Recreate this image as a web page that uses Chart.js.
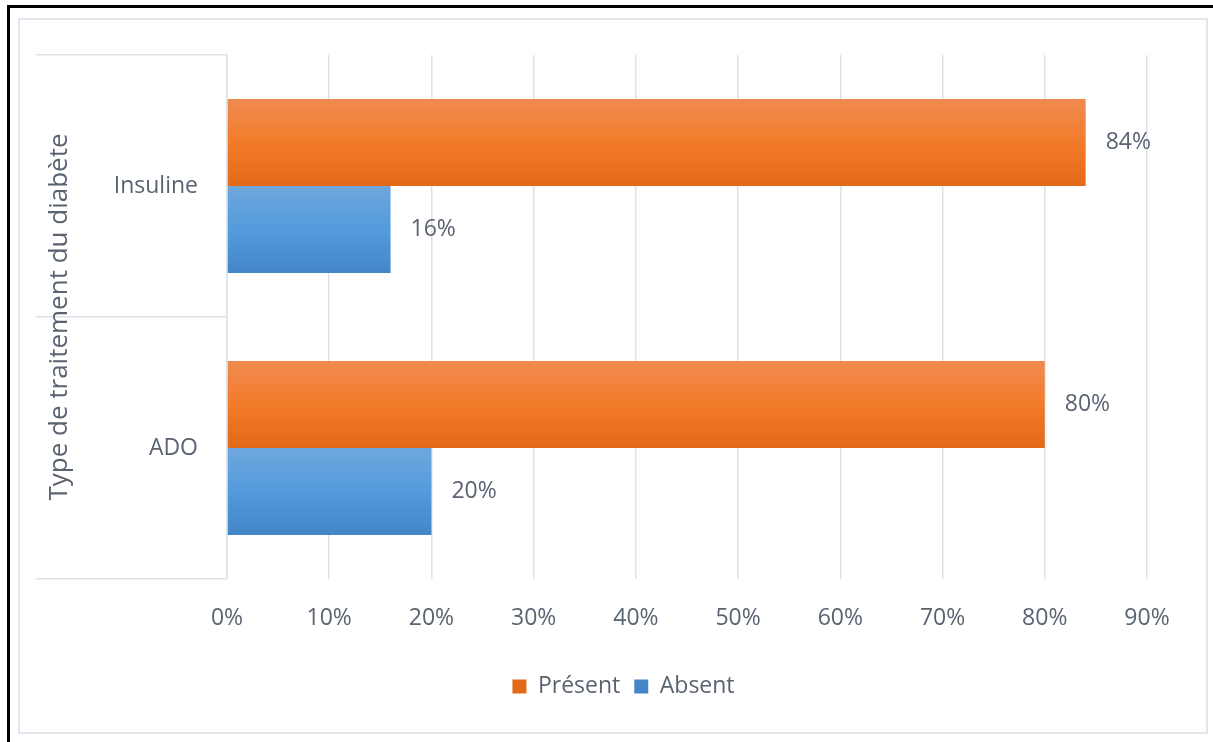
<!DOCTYPE html>
<html>
<head>
<meta charset="utf-8">
<script src="https://cdn.jsdelivr.net/npm/chart.js@4"></script>
<style>
  body { margin: 0; background: #fff; }
  .frame { position: absolute; left: 7px; top: 5px; width: 1206px; height: 737px;
           border-top: 3px solid #000; border-left: 3px solid #000; }
  .box { position: absolute; left: 18px; top: 18px; width: 1186px; height: 712px;
         border: 2px solid #e1e5ec; }
  #chart { position: absolute; left: 0; top: 0; }
</style>
</head>
<body>
<div class="frame"></div>
<div class="box"></div>
<canvas id="chart" width="1213" height="742"></canvas>
<script>
const categories = ["Insuline", "ADO"];
const present = [84, 80];
const absent = [16, 20];
const seriesNames = ["Présent", "Absent"];
const xTicks = [0, 10, 20, 30, 40, 50, 60, 70, 80, 90];

const textColor = "#5a6372";
const gridColor = "#dde2ea";
const police = "'Open Sans', sans-serif";
const catPct = 0.665;

// degrade vertical pour chaque barre, comme dans Excel
function degrade(haut, milieu, bas) {
  return (c) => {
    const y = c.chart.scales.y;
    if (!y || c.type !== "data" || !y.height) return milieu;
    const bande = y.height / categories.length;
    const h = bande * catPct / 2;
    const top = y.getPixelForValue(c.dataIndex) - bande * catPct / 2 + c.datasetIndex * h;
    const g = c.chart.ctx.createLinearGradient(0, top, 0, top + h);
    g.addColorStop(0, haut);
    g.addColorStop(0.5, milieu);
    g.addColorStop(1, bas);
    return g;
  };
}

const etiquettes = {
  id: "etiquettes",
  afterDatasetsDraw(chart) {
    const ctx = chart.ctx;
    ctx.save();
    ctx.font = "23px " + police;
    ctx.fillStyle = textColor;
    ctx.textAlign = "left";
    ctx.textBaseline = "middle";
    chart.data.datasets.forEach((ds, i) => {
      chart.getDatasetMeta(i).data.forEach((bar, j) => {
        ctx.fillText(ds.data[j] + "%", bar.x + 20, bar.y);
      });
    });
    ctx.restore();
  }
};

// decaler la legende comme sur l'original
const legendeDecalee = {
  id: "legendeDecalee",
  afterLayout(chart) {
    chart.legend.left += 32;
    chart.legend.right += 32;
  }
};

new Chart(document.getElementById("chart"), {
  type: "bar",
  data: {
    labels: categories,
    datasets: [
      {
        label: seriesNames[0],
        data: present,
        backgroundColor: degrade("#f08b50", "#f27b2a", "#e36917"),
        borderWidth: 0
      },
      {
        label: seriesNames[1],
        data: absent,
        backgroundColor: degrade("#6fa7dd", "#539bdc", "#4386c7"),
        borderWidth: 0
      }
    ]
  },
  options: {
    indexAxis: "y",
    responsive: false,
    animation: false,
    datasets: { bar: { categoryPercentage: catPct, barPercentage: 1 } },
    layout: { padding: { left: 36, right: 66, top: 55, bottom: 34 } },
    scales: {
      x: {
        min: 0,
        max: 90,
        afterBuildTicks: (s) => { s.ticks = xTicks.map(v => ({ value: v })); },
        afterFit: (s) => { s.height = 82; },
        border: { display: false },
        grid: { color: gridColor, lineWidth: 1.5, drawTicks: false },
        ticks: {
          color: textColor,
          font: { family: police, size: 23 },
          padding: 26,
          callback: (v) => v + "%"
        }
      },
      y: {
        afterFit: (s) => { s.width = 191; },
        border: { display: true, color: gridColor, width: 1.5 },
        grid: { drawOnChartArea: false, color: gridColor, lineWidth: 1.5, tickLength: 191, offset: true },
        ticks: {
          color: textColor,
          font: { family: police, size: 23 },
          padding: -162
        },
        title: {
          display: true,
          text: "Type de traitement du diabète",
          color: textColor,
          font: { family: police, size: 26 },
          padding: { top: 8, bottom: 0 }
        }
      }
    },
    plugins: {
      legend: {
        position: "bottom",
        labels: {
          color: textColor,
          font: { family: police, size: 23 },
          boxWidth: 14,
          boxHeight: 14,
          padding: 14
        }
      },
      tooltip: { enabled: false }
    }
  },
  plugins: [etiquettes, legendeDecalee]
});
</script>
</body>
</html>
